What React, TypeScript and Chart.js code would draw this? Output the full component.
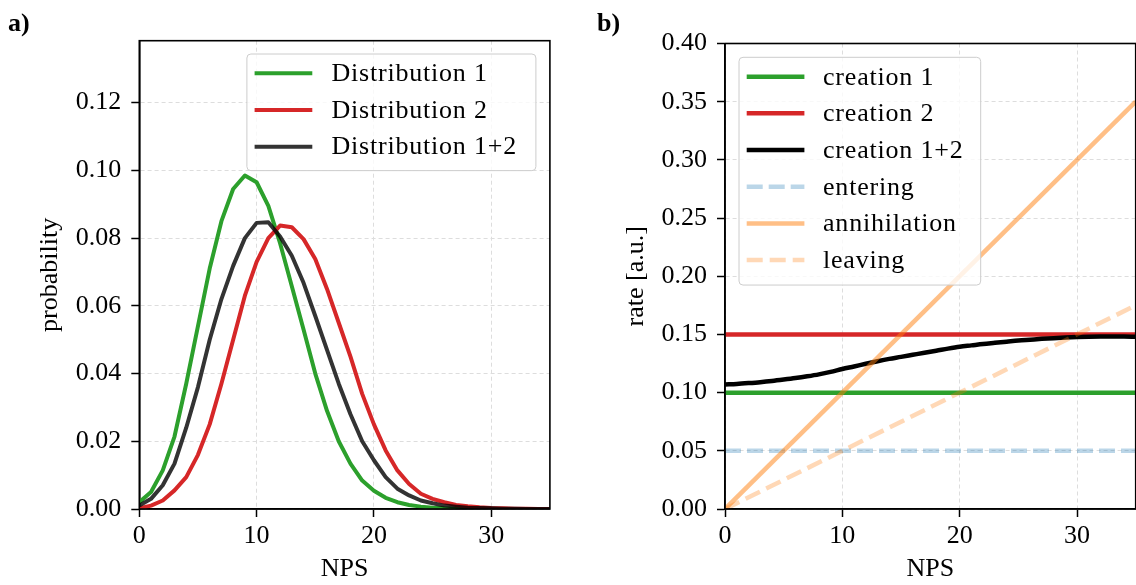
import React, { useEffect, useRef } from "react";
import { Chart, registerables } from "chart.js";

Chart.register(...registerables);

// ---------- data ----------
const npsValues = [0, 1, 2, 3, 4, 5, 6, 7, 8, 9, 10, 11, 12, 13, 14, 15, 16, 17, 18, 19, 20, 21, 22, 23, 24, 25, 26, 27, 28, 29, 30, 31, 32, 33, 34, 35];

const distribution1 = [0.002, 0.005, 0.0114, 0.0214, 0.037, 0.054, 0.071, 0.085, 0.0945, 0.0985, 0.0965, 0.0895, 0.0785, 0.0658, 0.053, 0.040, 0.029, 0.020, 0.0134, 0.0084, 0.0054, 0.0033, 0.002, 0.0012, 0.0007, 0.0004, 0.0002, 0.0001, 0.00006, 0.00003, 0.00002, 0.00001, 0, 0, 0, 0];
const distribution2 = [0.0002, 0.001, 0.0025, 0.0055, 0.0094, 0.016, 0.025, 0.037, 0.050, 0.063, 0.073, 0.080, 0.0837, 0.0832, 0.0797, 0.0738, 0.065, 0.055, 0.045, 0.034, 0.025, 0.0173, 0.0114, 0.0074, 0.0045, 0.003, 0.002, 0.0012, 0.0008, 0.0005, 0.0003, 0.0002, 0.0001, 0.00006, 0.00003, 0.00002];
const distribution12 = [0.001, 0.003, 0.007, 0.0134, 0.024, 0.036, 0.050, 0.062, 0.0718, 0.080, 0.0845, 0.0847, 0.0805, 0.0748, 0.0668, 0.057, 0.047, 0.037, 0.028, 0.020, 0.0144, 0.0094, 0.006, 0.004, 0.0025, 0.0017, 0.001, 0.0007, 0.0004, 0.0003, 0.0002, 0.0001, 0.00006, 0.00003, 0.00002, 0.00001];

const rateX = [0, 35];
const creation1 = [0.10, 0.10];
const creation2 = [0.15, 0.15];
const entering = [0.05, 0.05];
const annihilation = [0.0, 0.35];
const leaving = [0.0, 0.175];
const creation12 = [0.107, 0.1075, 0.1082, 0.109, 0.110, 0.1112, 0.1125, 0.114, 0.1157, 0.1178, 0.1203, 0.1225, 0.1248, 0.127, 0.129, 0.1307, 0.1325, 0.1343, 0.136, 0.1378, 0.1394, 0.1406, 0.1418, 0.1428, 0.1438, 0.1448, 0.1455, 0.1462, 0.1468, 0.1473, 0.1477, 0.148, 0.1482, 0.1483, 0.1482, 0.148];

const leftLabels = ["Distribution 1", "Distribution 2", "Distribution 1+2"];
const rightLabels = ["creation 1", "creation 2", "creation 1+2", "entering", "annihilation", "leaving"];
const xTickStep = 10;
const leftYTickStep = 0.02;
const rightYTickStep = 0.05;

// ---------- styling ----------
const FONT = '"Liberation Serif", "Times New Roman", serif';
const FS = 26;

const frameAndLegend = {
  id: "frameAndLegend",
  afterDatasetsDraw(chart: any, _args: any, opts: any) {
    const { ctx, chartArea } = chart;
    const { left, right, top, bottom } = chartArea;
    ctx.save();
    ctx.strokeStyle = "#000";
    ctx.lineWidth = 1.6;
    ctx.setLineDash([]);
    ctx.strokeRect(left, top, right - left, bottom - top);

    // legend
    const ds = chart.data.datasets;
    const w = opts.width;
    const rows = ds.length;
    const h = opts.topPad + (rows - 1) * opts.rowH + opts.bottomPad;
    const bx = opts.anchor === "right" ? right - opts.offX - w : left + opts.offX;
    const by = top + opts.offY;
    ctx.beginPath();
    ctx.roundRect(bx, by, w, h, 4);
    ctx.fillStyle = "rgba(255,255,255,0.8)";
    ctx.fill();
    ctx.strokeStyle = "#cccccc";
    ctx.lineWidth = 1;
    ctx.stroke();
    ctx.font = `${FS}px ${FONT}`;
    ctx.textBaseline = "middle";
    ctx.textAlign = "left";
    try { (ctx as any).letterSpacing = opts.letterSpacing || "0px"; } catch (e) {}
    ds.forEach((d: any, i: number) => {
      const cy = by + opts.topPad + i * opts.rowH;
      ctx.beginPath();
      ctx.strokeStyle = d.borderColor;
      ctx.lineWidth = d.borderWidth;
      ctx.setLineDash(d.borderDash || []);
      ctx.moveTo(bx + opts.sampleX, cy);
      ctx.lineTo(bx + opts.sampleX + opts.sampleLen, cy);
      ctx.stroke();
      ctx.setLineDash([]);
      ctx.fillStyle = "#000";
      ctx.fillText(d.label, bx + opts.textX, cy + 1);
    });
    ctx.restore();
  },
};

function makeScales(yMax: number, yStep: number, yTitle: string, yWidth: number, yTitlePad: number) {
  const tickFont = { family: FONT, size: FS };
  return {
    x: {
      type: "linear",
      min: 0,
      max: 35,
      afterFit: (s: any) => { s.height = 76; },
      ticks: {
        stepSize: xTickStep,
        includeBounds: false,
        font: tickFont,
        color: "#000",
        padding: 4,
        maxRotation: 0,
        callback: (v: number) => String(Math.round(v)),
      },
      grid: { color: "#dddddd", lineWidth: 1, tickColor: "#000", tickWidth: 1.5, tickLength: 8, tickBorderDash: [] },
      border: { display: true, color: "#000", width: 1.6, dash: [4, 3] },
      title: { display: true, text: "NPS", font: tickFont, color: "#000", padding: { top: 0, bottom: 0 } },
    },
    y: {
      type: "linear",
      min: 0,
      max: yMax,
      afterFit: (s: any) => { s.width = yWidth; },
      ticks: {
        stepSize: yStep,
        includeBounds: false,
        font: tickFont,
        color: "#000",
        padding: 10,
        callback: (v: number) => v.toFixed(2),
      },
      grid: { color: "#dddddd", lineWidth: 1, tickColor: "#000", tickWidth: 1.5, tickLength: 8, tickBorderDash: [] },
      border: { display: true, color: "#000", width: 1.6, dash: [4, 3] },
      title: { display: true, text: yTitle, font: tickFont, color: "#000", padding: { top: yTitlePad, bottom: 0 } },
    },
  };
}

function pts(xs: number[], ys: number[]) {
  return xs.map((x, i) => ({ x, y: ys[i] }));
}

function LeftChart() {
  const ref = useRef<HTMLCanvasElement>(null);
  useEffect(() => {
    const colors = ["#2ca02c", "#d62728", "rgba(0,0,0,0.8)"];
    const series = [distribution1, distribution2, distribution12];
    const n = series.length;
    const chart = new Chart(ref.current!, {
      type: "line",
      data: {
        datasets: series.map((s, i) => ({
          label: leftLabels[i],
          data: pts(npsValues, s),
          borderColor: colors[i],
          borderWidth: 4,
          pointRadius: 0,
          tension: 0,
          order: n - i,
          borderJoinStyle: "round",
        })),
      },
      options: {
        responsive: false,
        animation: false,
        events: [],
        layout: { padding: { left: 0, top: 40.7, right: 18.1, bottom: 0 } },
        scales: makeScales(0.1383, leftYTickStep, "probability", 139.3, 35) as any,
        plugins: {
          legend: { display: false },
          tooltip: { enabled: false },
          frameAndLegend: {
            anchor: "right", offX: 14, offY: 13.3, width: 289, rowH: 36.67, topPad: 19.3, bottomPad: 24,
            sampleX: 7.7, sampleLen: 57.7, textX: 84.5, letterSpacing: "0.8px",
          },
        } as any,
      },
      plugins: [frameAndLegend],
    } as any);
    return () => chart.destroy();
  }, []);
  return <canvas ref={ref} width={568} height={585} style={{ position: "absolute", left: 0, top: 0 }} />;
}

function RightChart() {
  const ref = useRef<HTMLCanvasElement>(null);
  useEffect(() => {
    const defs = [
      { xs: rateX, ys: creation1, color: "#2ca02c", dash: [] as number[], smooth: false },
      { xs: rateX, ys: creation2, color: "#d62728", dash: [], smooth: false },
      { xs: npsValues, ys: creation12, color: "#000000", dash: [], smooth: true },
      { xs: rateX, ys: entering, color: "rgba(31,119,180,0.3)", dash: [16, 6], smooth: false },
      { xs: rateX, ys: annihilation, color: "rgba(255,127,14,0.5)", dash: [], smooth: false },
      { xs: rateX, ys: leaving, color: "rgba(255,127,14,0.3)", dash: [16, 7], smooth: false },
    ];
    const n = defs.length;
    const chart = new Chart(ref.current!, {
      type: "line",
      data: {
        datasets: defs.map((d, i) => ({
          label: rightLabels[i],
          data: pts(d.xs, d.ys),
          borderColor: d.color,
          borderWidth: 4.5,
          borderDash: d.dash,
          pointRadius: 0,
          cubicInterpolationMode: d.smooth ? "monotone" : "default",
          tension: 0,
          order: n - i,
          borderCapStyle: "butt",
        })),
      },
      options: {
        responsive: false,
        animation: false,
        events: [],
        layout: { padding: { left: 0, top: 43.5, right: 0.3, bottom: 0 } },
        scales: makeScales(0.40, rightYTickStep, "rate [a.u.]", 157, 53) as any,
        plugins: {
          legend: { display: false },
          tooltip: { enabled: false },
          frameAndLegend: {
            anchor: "left", offX: 14, offY: 13.8, width: 241.7, rowH: 36.67, topPad: 19.4, bottomPad: 25,
            sampleX: 7.7, sampleLen: 57.7, textX: 84, letterSpacing: "0.8px",
          },
        } as any,
      },
      plugins: [frameAndLegend],
    } as any);
    return () => chart.destroy();
  }, []);
  return <canvas ref={ref} width={568} height={585} style={{ position: "absolute", left: 568, top: 0 }} />;
}

const panelLabel: React.CSSProperties = {
  position: "absolute",
  fontFamily: FONT,
  fontWeight: "bold",
  fontSize: FS,
  lineHeight: "26px",
  color: "#000",
};

export default function App() {
  return (
    <div style={{ position: "fixed", left: 0, top: 0, width: 1136, height: 585, background: "#fff", overflow: "hidden" }}>
      <LeftChart />
      <RightChart />
      <div style={{ ...panelLabel, left: 8, top: 10 }}>a)</div>
      <div style={{ ...panelLabel, left: 597, top: 10 }}>b)</div>
    </div>
  );
}
